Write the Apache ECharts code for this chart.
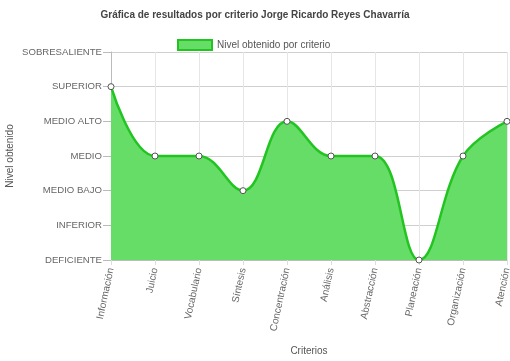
<!DOCTYPE html>
<html><head><meta charset="utf-8">
<script src="https://cdn.jsdelivr.net/npm/echarts@6/dist/echarts.min.js"></script>
<style>html,body{margin:0;padding:0;background:#fff}#c{width:510px;height:361px}</style>
</head><body><div id="c"></div>
<script>
const levels = ['DEFICIENTE','INFERIOR','MEDIO BAJO','MEDIO','MEDIO ALTO','SUPERIOR','SOBRESALIENTE'];
const criterios = ['Información','Juicio','Vocabulario','Síntesis','Concentración','Análisis','Abstracción','Planeación','Organización','Atención'];
const resultados = ['SUPERIOR','MEDIO','MEDIO','MEDIO BAJO','MEDIO ALTO','MEDIO','MEDIO','DEFICIENTE','MEDIO','MEDIO ALTO'];
const chart = echarts.init(document.getElementById('c'));
const font = 'Liberation Sans, Arial, sans-serif';
chart.setOption({
  animation:false,
  textStyle:{fontFamily:font},
  title:{text:'Gráfica de resultados por criterio Jorge Ricardo Reyes Chavarría',left:'center',top:5,
    textStyle:{fontSize:10,fontWeight:'bold',color:'#444',fontFamily:font}},
  legend:{top:34,left:172,itemWidth:34,itemHeight:10,itemGap:4,
    textStyle:{fontSize:10,color:'#555',fontFamily:font},
    itemStyle:{color:'#66dd66',borderColor:'#22c422',borderWidth:2},
    data:[{name:'Nivel obtenido por criterio',icon:'rect'}]},
  grid:{left:111,right:3,top:52,bottom:101,containLabel:false,outerBoundsMode:'none'},
  xAxis:{type:'category',data:criterios,boundaryGap:false,
    name:'Criterios',nameLocation:'middle',nameGap:86,nameMoveOverlap:false,
    nameTextStyle:{fontSize:10,color:'#555'},
    axisLine:{lineStyle:{color:'#bbb'}},
    axisTick:{show:true,length:5,lineStyle:{color:'#ddd'}},
    axisLabel:{rotate:78,fontSize:10,color:'#666',margin:8,interval:0},
    splitLine:{show:true,lineStyle:{color:'#e6e6e6'}}},
  yAxis:{type:'value',min:0,max:6,interval:1,
    name:'Nivel obtenido',nameLocation:'middle',nameGap:96,nameRotate:90,nameMoveOverlap:false,
    nameTextStyle:{fontSize:10,color:'#555'},
    axisLine:{show:true,lineStyle:{color:'#bbb'}},
    axisTick:{show:true,length:8,lineStyle:{color:'#bbb'}},
    axisLabel:{fontSize:9.6,color:'#666',margin:9,formatter:v=>levels[v]},
    splitLine:{show:true,lineStyle:{color:'#d0d0d0'}}},
  series:[{name:'Nivel obtenido por criterio',type:'line',smooth:0.4,
    data:resultados.map(r=>levels.indexOf(r)),
    symbol:'circle',symbolSize:6,
    itemStyle:{color:'#fff',borderColor:'#555',borderWidth:1},
    lineStyle:{color:'#22c422',width:2.5},
    areaStyle:{color:'#66dd66',opacity:1},
    emphasis:{disabled:true}}]
});
</script></body></html>
